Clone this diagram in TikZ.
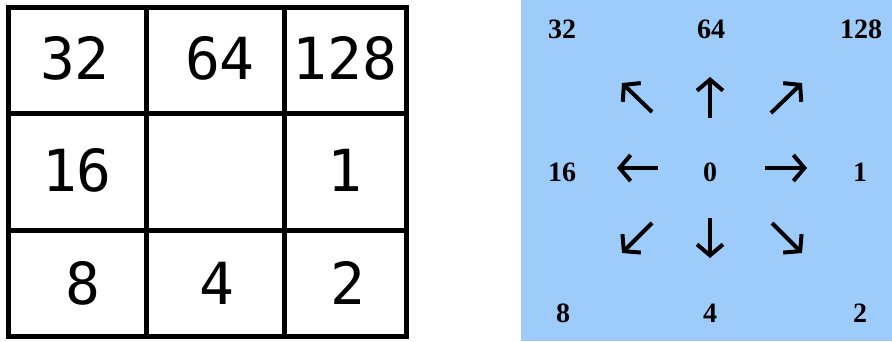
\documentclass[tikz,border=0pt]{standalone}
\usepackage{fontspec}
\usetikzlibrary{arrows.meta}
\newfontfamily\gridfont{DejaVu Sans Mono}
\newfontfamily\boldserif{Liberation Serif}
\definecolor{panelblue}{RGB}{158,204,250}
\tikzset{
  gridline/.style={line width=5pt, line cap=rect},
  gridnum/.style={font=\gridfont\fontsize{58}{58}\selectfont, inner sep=0pt, anchor=center},
  dirnum/.style={font=\boldserif\bfseries\fontsize{28}{28}\selectfont, inner sep=0pt, anchor=center},
  dirarrow/.style={line width=4pt, -{Straight Barb[length=11pt,width=26pt,line width=4pt]}}
}
\begin{document}
\begin{tikzpicture}[x=1pt,y=-1pt]
\useasboundingbox (0,0) rectangle (892,341);
% left grid
\draw[gridline] (8.5,7.5) rectangle (406,336);
\draw[gridline] (146,7.5) -- (146,336);
\draw[gridline] (284.5,7.5) -- (284.5,336);
\draw[gridline] (8.5,113) -- (406,113);
\draw[gridline] (8.5,230.5) -- (406,230.5);
\node[gridnum] (g32) at (75,58) {32};
\node[gridnum] (g64) at (220,58) {64};
\node[gridnum] (g128) at (345,58) {128};
\node[gridnum] (g16) at (77,170) {16};
\node[gridnum] (g1) at (345,170) {1};
\node[gridnum] (g8) at (83,283) {8};
\node[gridnum] (g4) at (217,283) {4};
\node[gridnum] (g2) at (348,283) {2};
% right panel
\fill[panelblue] (521,0) rectangle (892,341);
\node[dirnum] (d32) at (562,29) {32};
\node[dirnum] (d64) at (711,29) {64};
\node[dirnum] (d128) at (861,29) {128};
\node[dirnum] (d16) at (562,172) {16};
\node[dirnum] (d0) at (710,172) {0};
\node[dirnum] (d1) at (860,172) {1};
\node[dirnum] (d8) at (563,313) {8};
\node[dirnum] (d4) at (710,313) {4};
\node[dirnum] (d2) at (860,313) {2};
% arrows
\coordinate (nwA) at (652,112); \coordinate (nwB) at (622,83);
\coordinate (nA) at (710,118); \coordinate (nB) at (710,77);
\coordinate (neA) at (771,113); \coordinate (neB) at (802,83);
\coordinate (wA) at (658,168); \coordinate (wB) at (617,168);
\coordinate (eA) at (765,168); \coordinate (eB) at (807,168);
\coordinate (swA) at (652,223); \coordinate (swB) at (622,253);
\coordinate (sA) at (710,218); \coordinate (sB) at (710,258);
\coordinate (seA) at (772,223); \coordinate (seB) at (802,253);
\draw[dirarrow] (nwA) -- (nwB);
\draw[dirarrow] (nA) -- (nB);
\draw[dirarrow] (neA) -- (neB);
\draw[dirarrow] (wA) -- (wB);
\draw[dirarrow] (eA) -- (eB);
\draw[dirarrow] (swA) -- (swB);
\draw[dirarrow] (sA) -- (sB);
\draw[dirarrow] (seA) -- (seB);
\end{tikzpicture}
\end{document}
